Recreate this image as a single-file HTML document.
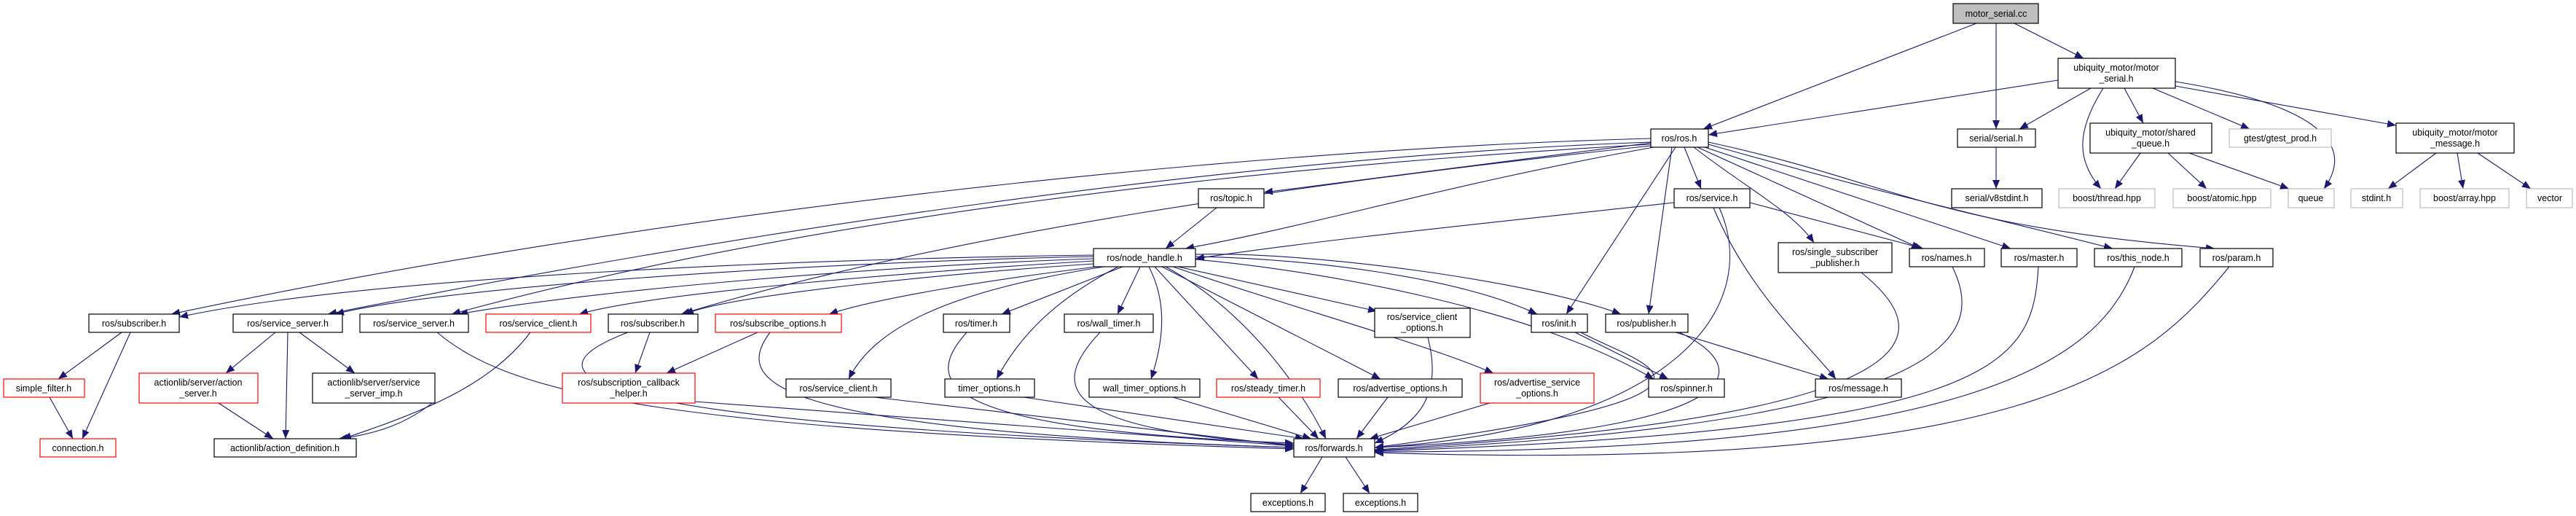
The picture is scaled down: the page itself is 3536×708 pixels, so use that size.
<!DOCTYPE html>
<html><head><meta charset="utf-8"><style>
html,body{margin:0;padding:0;background:#fff;}
svg{display:block;}
text{font-family:"Liberation Sans",sans-serif;font-size:12.5px;fill:#000;}
.n{fill:#fff;stroke:#000;stroke-width:1.2;}
.g{fill:#fff;stroke:#bfbfbf;stroke-width:1.2;}
.r{fill:#fff;stroke:#ff0000;stroke-width:1.2;}
.e{fill:none;stroke:#191970;stroke-width:1.1;marker-end:url(#a);}
</style></head><body>
<svg width="3536" height="708" viewBox="0 0 3536 708" xmlns="http://www.w3.org/2000/svg">
<defs><marker id="a" markerUnits="userSpaceOnUse" markerWidth="12" markerHeight="10" refX="12" refY="5" orient="auto"><path d="M0,0 L12,5 L0,10 z" fill="#191970"/></marker></defs>
<g>
<path class="e" d="M2713,32 L2338,177"/>
<path class="e" d="M2740,32 L2740,177"/>
<path class="e" d="M2765,32 L2860,80"/>
<path class="e" d="M2825,110 L2345,185"/>
<path class="e" d="M2870,121 L2772,177"/>
<path class="e" d="M2887,121 C2850,180 2850,220 2884,259"/>
<path class="e" d="M2916,121 L2942,169"/>
<path class="e" d="M2955,121 L3088,177"/>
<path class="e" d="M2986,112 C3160,140 3240,190 3190,259"/>
<path class="e" d="M2986,118 L3289,172"/>
<path class="e" d="M2938,210 L2903,259"/>
<path class="e" d="M2976,210 L3029,259"/>
<path class="e" d="M3005,210 L3142,259"/>
<path class="e" d="M3344,210 L3278,259"/>
<path class="e" d="M3373,210 L3381,259"/>
<path class="e" d="M3401,210 L3474,259"/>
<path class="e" d="M2740,202 L2740,259"/>
<path class="e" d="M2266,190 C1700,205 900,290 235,431"/>
<path class="e" d="M2266,195 C1700,215 1000,320 450,431"/>
<path class="e" d="M2266,198 C1700,230 1100,300 620,431"/>
<path class="e" d="M2266,200 C1800,250 1300,320 935,431"/>
<path class="e" d="M2266,196 L1735,264"/>
<path class="e" d="M2270,202 C2000,250 1800,310 1627,341"/>
<path class="e" d="M2312,202 L2335,259"/>
<path class="e" d="M2300,202 L2150,431"/>
<path class="e" d="M2295,202 L2263,431"/>
<path class="e" d="M2325,202 C2400,260 2460,290 2490,333"/>
<path class="e" d="M2330,202 L2636,341"/>
<path class="e" d="M2340,202 L2760,341"/>
<path class="e" d="M2345,198 C2600,270 2700,290 2900,341"/>
<path class="e" d="M2345,195 C2600,250 2650,310 3040,341"/>
<path class="e" d="M1501,350 C1100,355 500,380 246,435"/>
<path class="e" d="M1501,352 C1100,360 600,395 460,431"/>
<path class="e" d="M1501,355 C1200,365 800,400 630,431"/>
<path class="e" d="M1501,358 C1300,370 900,400 795,431"/>
<path class="e" d="M1501,362 C1300,375 1000,405 940,431"/>
<path class="e" d="M1505,366 C1350,385 1200,410 1138,431"/>
<path class="e" d="M1515,366 C1300,400 1200,450 1165,520"/>
<path class="e" d="M1541,366 L1375,431"/>
<path class="e" d="M1535,366 C1450,410 1400,460 1368,520"/>
<path class="e" d="M1565,366 L1534,431"/>
<path class="e" d="M1577,366 C1600,410 1600,460 1580,520"/>
<path class="e" d="M1585,366 L1727,520"/>
<path class="e" d="M1595,366 L1895,520"/>
<path class="e" d="M1617,366 L1890,427"/>
<path class="e" d="M1610,366 C1800,430 1950,470 2050,512"/>
<path class="e" d="M1641,352 C1800,355 2000,380 2110,431"/>
<path class="e" d="M1641,349 C1800,345 2100,385 2225,431"/>
<path class="e" d="M1641,356 C1800,370 2100,420 2270,520"/>
<path class="e" d="M1600,366 C1700,420 1780,520 1820,602"/>
<path class="e" d="M1670,285 L1600,341"/>
<path class="e" d="M2298,278 C2100,300 1800,330 1641,355"/>
<path class="e" d="M2402,278 L2640,341"/>
<path class="e" d="M2352,285 C2400,400 2480,470 2520,520"/>
<path class="e" d="M2360,285 C2420,420 2300,590 1887,614"/>
<path class="e" d="M2555,374 C2650,450 2700,570 1887,617"/>
<path class="e" d="M2680,366 C2720,450 2720,580 1887,618"/>
<path class="e" d="M2798,366 C2790,500 2750,590 1887,619"/>
<path class="e" d="M2930,366 C2880,500 2700,620 1887,620"/>
<path class="e" d="M3060,366 C2950,500 2800,650 1887,621"/>
<path class="e" d="M2162,456 L2290,520"/>
<path class="e" d="M2170,456 C2250,500 2450,540 1887,614"/>
<path class="e" d="M2300,456 L2510,520"/>
<path class="e" d="M2305,456 C2400,500 2430,590 1887,614"/>
<path class="e" d="M2045,553 L1880,602"/>
<path class="e" d="M1905,545 L1862,602"/>
<path class="e" d="M1755,545 L1810,602"/>
<path class="e" d="M1610,545 L1800,602"/>
<path class="e" d="M1405,545 L1790,602"/>
<path class="e" d="M1510,456 C1440,530 1450,590 1776,610"/>
<path class="e" d="M1327,456 C1260,530 1300,590 1776,608"/>
<path class="e" d="M1960,463 C1980,540 1950,580 1887,608"/>
<path class="e" d="M1200,545 L1776,612"/>
<path class="e" d="M954,551 L1776,612"/>
<path class="e" d="M862,456 C720,510 740,580 1776,614"/>
<path class="e" d="M1040,456 L915,512"/>
<path class="e" d="M892,456 L872,512"/>
<path class="e" d="M1057,456 C1010,520 1030,590 1776,614"/>
<path class="e" d="M600,456 C700,540 900,590 1776,616"/>
<path class="e" d="M728,456 C680,520 600,560 470,602"/>
<path class="e" d="M378,456 L310,512"/>
<path class="e" d="M395,456 L392,602"/>
<path class="e" d="M411,456 L487,512"/>
<path class="e" d="M597,550 C560,580 520,595 465,602"/>
<path class="e" d="M300,553 L375,602"/>
<path class="e" d="M167,456 L80,520"/>
<path class="e" d="M179,456 L113,602"/>
<path class="e" d="M68,545 L100,602"/>
<path class="e" d="M1815,627 L1785,677"/>
<path class="e" d="M1847,627 L1880,677"/>
</g>
<g text-anchor="middle">
<rect x="2681" y="5" width="117" height="27" fill="#bfbfbf" stroke="#000" stroke-width="1.2"/><text x="2740" y="23">motor_serial.cc</text>
<rect class="n" x="2266" y="177" width="79" height="25"/><text x="2305" y="194">ros/ros.h</text>
<rect class="n" x="2687" y="177" width="107" height="25"/><text x="2740" y="194">serial/serial.h</text>
<rect class="n" x="2825" y="80" width="161" height="41"/><text x="2905" y="97">ubiquity_motor/motor</text><text x="2905" y="112">_serial.h</text>
<rect class="n" x="2869" y="169" width="167" height="41"/><text x="2952" y="186">ubiquity_motor/shared</text><text x="2952" y="201">_queue.h</text>
<rect class="g" x="3060" y="177" width="140" height="25"/><text x="3130" y="194">gtest/gtest_prod.h</text>
<rect class="n" x="3289" y="169" width="162" height="41"/><text x="3370" y="186">ubiquity_motor/motor</text><text x="3370" y="201">_message.h</text>
<rect class="g" x="2826" y="259" width="132" height="26"/><text x="2892" y="276">boost/thread.hpp</text>
<rect class="g" x="2983" y="259" width="134" height="26"/><text x="3050" y="276">boost/atomic.hpp</text>
<rect class="g" x="3141" y="259" width="63" height="26"/><text x="3172" y="276">queue</text>
<rect class="g" x="3227" y="259" width="71" height="26"/><text x="3262" y="276">stdint.h</text>
<rect class="g" x="3322" y="259" width="122" height="26"/><text x="3383" y="276">boost/array.hpp</text>
<rect class="g" x="3468" y="259" width="63" height="26"/><text x="3500" y="276">vector</text>
<rect class="n" x="2679" y="259" width="124" height="26"/><text x="2741" y="276">serial/v8stdint.h</text>
<rect class="n" x="1645" y="259" width="90" height="26"/><text x="1690" y="276">ros/topic.h</text>
<rect class="n" x="2298" y="259" width="104" height="26"/><text x="2350" y="276">ros/service.h</text>
<rect class="n" x="2441" y="333" width="156" height="41"/><text x="2519" y="350">ros/single_subscriber</text><text x="2519" y="365">_publisher.h</text>
<rect class="n" x="2621" y="341" width="103" height="25"/><text x="2672" y="358">ros/names.h</text>
<rect class="n" x="2747" y="341" width="104" height="25"/><text x="2799" y="358">ros/master.h</text>
<rect class="n" x="2875" y="341" width="120" height="25"/><text x="2935" y="358">ros/this_node.h</text>
<rect class="n" x="3020" y="341" width="100" height="25"/><text x="3070" y="358">ros/param.h</text>
<rect class="n" x="1501" y="341" width="140" height="25"/><text x="1571" y="358">ros/node_handle.h</text>
<rect class="n" x="122" y="431" width="124" height="25"/><text x="184" y="448">ros/subscriber.h</text>
<rect class="n" x="320" y="431" width="150" height="25"/><text x="395" y="448">ros/service_server.h</text>
<rect class="n" x="494" y="431" width="149" height="25"/><text x="568" y="448">ros/service_server.h</text>
<rect class="r" x="667" y="431" width="144" height="25"/><text x="739" y="448">ros/service_client.h</text>
<rect class="n" x="835" y="431" width="123" height="25"/><text x="896" y="448">ros/subscriber.h</text>
<rect class="r" x="982" y="431" width="173" height="25"/><text x="1068" y="448">ros/subscribe_options.h</text>
<rect class="n" x="1295" y="431" width="91" height="25"/><text x="1340" y="448">ros/timer.h</text>
<rect class="n" x="1461" y="431" width="122" height="25"/><text x="1522" y="448">ros/wall_timer.h</text>
<rect class="n" x="1887" y="423" width="131" height="40"/><text x="1952" y="439">ros/service_client</text><text x="1952" y="454">_options.h</text>
<rect class="n" x="2102" y="431" width="77" height="25"/><text x="2140" y="448">ros/init.h</text>
<rect class="n" x="2204" y="431" width="113" height="25"/><text x="2260" y="448">ros/publisher.h</text>
<rect class="r" x="5" y="520" width="111" height="25"/><text x="60" y="537">simple_filter.h</text>
<rect class="r" x="55" y="602" width="104" height="25"/><text x="107" y="619">connection.h</text>
<rect class="r" x="191" y="512" width="163" height="41"/><text x="272" y="529">actionlib/server/action</text><text x="272" y="544">_server.h</text>
<rect class="n" x="429" y="512" width="168" height="41"/><text x="513" y="529">actionlib/server/service</text><text x="513" y="544">_server_imp.h</text>
<rect class="n" x="294" y="602" width="195" height="25"/><text x="391" y="619">actionlib/action_definition.h</text>
<rect class="r" x="772" y="512" width="182" height="41"/><text x="863" y="529">ros/subscription_callback</text><text x="863" y="544">_helper.h</text>
<rect class="n" x="1079" y="520" width="144" height="25"/><text x="1151" y="537">ros/service_client.h</text>
<rect class="n" x="1297" y="520" width="123" height="25"/><text x="1358" y="537">timer_options.h</text>
<rect class="n" x="1495" y="520" width="152" height="25"/><text x="1571" y="537">wall_timer_options.h</text>
<rect class="r" x="1670" y="520" width="142" height="25"/><text x="1741" y="537">ros/steady_timer.h</text>
<rect class="n" x="1837" y="520" width="170" height="25"/><text x="1922" y="537">ros/advertise_options.h</text>
<rect class="r" x="2032" y="512" width="156" height="41"/><text x="2110" y="529">ros/advertise_service</text><text x="2110" y="544">_options.h</text>
<rect class="n" x="2263" y="520" width="104" height="25"/><text x="2315" y="537">ros/spinner.h</text>
<rect class="n" x="2492" y="520" width="118" height="25"/><text x="2551" y="537">ros/message.h</text>
<rect class="n" x="1776" y="602" width="111" height="25"/><text x="1831" y="619">ros/forwards.h</text>
<rect class="n" x="1717" y="677" width="102" height="25"/><text x="1768" y="694">exceptions.h</text>
<rect class="n" x="1844" y="677" width="102" height="25"/><text x="1895" y="694">exceptions.h</text>
</g>
</svg>
</body></html>
